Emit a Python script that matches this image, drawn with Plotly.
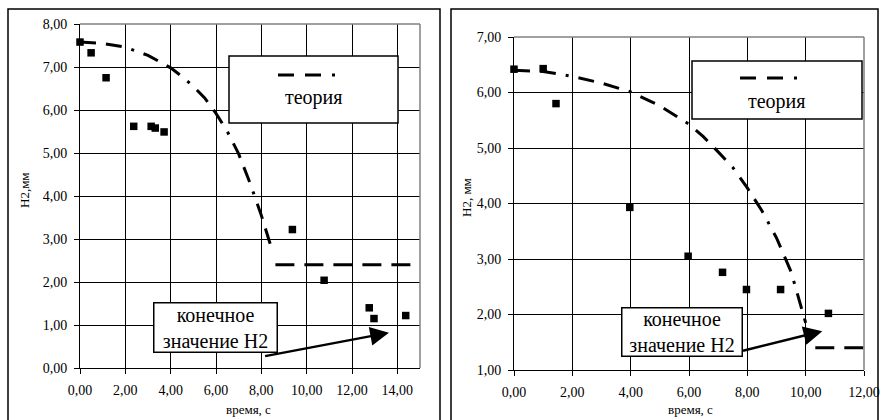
import plotly.graph_objects as go

W, H = 883, 420

# ---------------- data: left chart ----------------
exp_left_x = [0.0, 0.49, 1.15, 2.37, 3.14, 3.32, 3.71, 9.37, 10.77, 12.76, 12.97, 14.37]
exp_left_y = [7.58, 7.33, 6.75, 5.62, 5.62, 5.58, 5.49, 3.22, 2.04, 1.40, 1.15, 1.22]
theory_left_x = [0, 1.0, 2.0, 3.0, 4.0, 4.5, 5.0, 5.5, 6.0, 6.5, 7.0, 7.5, 8.0, 8.5]
theory_left_y = [7.58, 7.55, 7.46, 7.27, 6.98, 6.78, 6.55, 6.28, 5.92, 5.50, 4.98, 4.30, 3.55, 2.70]
final_left_x = [8.62, 14.62]
final_left_y = [2.40, 2.40]
left_xticks = [0, 2, 4, 6, 8, 10, 12, 14]
left_xticklabels = ["0,00", "2,00", "4,00", "6,00", "8,00", "10,00", "12,00", "14,00"]
left_yticks = [0, 1, 2, 3, 4, 5, 6, 7, 8]
left_yticklabels = ["0,00", "1,00", "2,00", "3,00", "4,00", "5,00", "6,00", "7,00", "8,00"]
arrow_left = [8.1, 0.27, 13.63, 0.82]  # tail x, tail y, head x, head y

# ---------------- data: right chart ----------------
exp_right_x = [0.0, 1.0, 1.44, 3.97, 5.97, 7.15, 7.97, 9.14, 10.78]
exp_right_y = [6.42, 6.43, 5.80, 3.93, 3.05, 2.76, 2.45, 2.45, 2.02]
theory_right_x = [0, 1.0, 2.0, 3.0, 4.0, 5.0, 6.0, 6.5, 7.0, 7.5, 8.0, 8.5, 9.0, 9.5, 10.0]
theory_right_y = [6.40, 6.38, 6.29, 6.17, 6.01, 5.76, 5.43, 5.20, 4.93, 4.65, 4.28, 3.87, 3.38, 2.77, 1.85]
final_right_x = [10.33, 12.0]
final_right_y = [1.40, 1.40]
right_xticks = [0, 2, 4, 6, 8, 10, 12]
right_xticklabels = ["0,00", "2,00", "4,00", "6,00", "8,00", "10,00", "12,00"]
right_yticks = [1, 2, 3, 4, 5, 6, 7]
right_yticklabels = ["1,00", "2,00", "3,00", "4,00", "5,00", "6,00", "7,00"]
arrow_right = [7.8, 1.34, 10.57, 1.70]

legend_text = "теория"
note_text = "конечное<br>значение H2"
xtitle = "время, с"
ytitle_left = "H2,мм"
ytitle_right = "H2, мм"

FONT = "Liberation Serif, Times New Roman, DejaVu Serif, serif"
DASH_CURVE = "16px,10px,16px,10px,3px,10px"
DASH_FINAL = "19px,10px"


def fx(p):
    return p / W


def fy(p):
    return 1 - p / H


fig = go.Figure()

for xa, ya, ex, ey, tx, ty, fxv, fyv in [
    ("x", "y", exp_left_x, exp_left_y, theory_left_x, theory_left_y, final_left_x, final_left_y),
    ("x2", "y2", exp_right_x, exp_right_y, theory_right_x, theory_right_y, final_right_x, final_right_y),
]:
    fig.add_trace(go.Scatter(x=tx, y=ty, mode="lines", xaxis=xa, yaxis=ya,
                             line=dict(color="black", width=3, dash=DASH_CURVE),
                             showlegend=False, hoverinfo="skip"))
    fig.add_trace(go.Scatter(x=fxv, y=fyv, mode="lines", xaxis=xa, yaxis=ya,
                             line=dict(color="black", width=3, dash=DASH_FINAL),
                             showlegend=False, hoverinfo="skip"))
    fig.add_trace(go.Scatter(x=ex, y=ey, mode="markers", xaxis=xa, yaxis=ya,
                             marker=dict(symbol="square", size=7.5, color="black"),
                             cliponaxis=False, showlegend=False))

axis_common = dict(showgrid=True, gridcolor="black", gridwidth=1, zeroline=False,
                   automargin=False, layer="below traces",
                   showline=True, linecolor="black", linewidth=1,
                   ticks="outside", ticklen=5, tickcolor="black", tickwidth=1,
                   ticklabelstandoff=4,
                   tickfont=dict(family=FONT, size=14, color="black"))

fig.update_layout(
    template="none",
    width=W, height=H,
    margin=dict(l=0, r=0, t=0, b=0, autoexpand=False),
    paper_bgcolor="white", plot_bgcolor="white",
    showlegend=False,
    font=dict(family=FONT, color="black"),
    xaxis=dict(domain=[fx(80), fx(420)], range=[0, 15], anchor="y",
               tickvals=left_xticks, ticktext=left_xticklabels, **axis_common),
    yaxis=dict(domain=[fy(368), fy(24)], range=[0, 8], anchor="x",
               tickvals=left_yticks, ticktext=left_yticklabels, **axis_common),
    xaxis2=dict(domain=[fx(514), fx(864)], range=[0, 12], anchor="y2",
                tickvals=right_xticks, ticktext=right_xticklabels, **axis_common),
    yaxis2=dict(domain=[fy(370), fy(37)], range=[1, 7], anchor="x2",
                tickvals=right_yticks, ticktext=right_yticklabels, **axis_common),
)

shapes = []
# outer frames
shapes.append(dict(type="rect", xref="paper", yref="paper", x0=fx(8), x1=fx(440), y0=fy(421), y1=fy(9),
                   line=dict(color="black", width=1.5), fillcolor="rgba(0,0,0,0)", layer="above"))
shapes.append(dict(type="rect", xref="paper", yref="paper", x0=fx(451), x1=fx(878), y0=fy(421), y1=fy(9),
                   line=dict(color="black", width=1.5), fillcolor="rgba(0,0,0,0)", layer="above"))
# gray plot area top/right borders
for (l, r, t, b) in [(80, 420, 24, 368), (514, 864, 37, 370)]:
    shapes.append(dict(type="line", xref="paper", yref="paper", x0=fx(l), x1=fx(r), y0=fy(t), y1=fy(t),
                       line=dict(color="#808080", width=1.5), layer="above"))
    shapes.append(dict(type="line", xref="paper", yref="paper", x0=fx(r), x1=fx(r), y0=fy(t), y1=fy(b),
                       line=dict(color="#808080", width=1.5), layer="above"))
# legend boxes and samples
for (l, t, r, b, sy, sx0, sx1) in [(229, 56, 398, 123, 75, 278, 337), (692, 61, 862, 119, 78, 740, 799)]:
    shapes.append(dict(type="rect", xref="paper", yref="paper", x0=fx(l), x1=fx(r), y0=fy(b), y1=fy(t),
                       line=dict(color="black", width=1.5), fillcolor="white", layer="above"))
    shapes.append(dict(type="line", xref="paper", yref="paper", x0=fx(sx0), x1=fx(sx1), y0=fy(sy), y1=fy(sy),
                       line=dict(color="black", width=3, dash="16px,11px,16px,11px,3px,11px"), layer="above"))
fig.update_layout(shapes=shapes)

ann = []
# arrows
for (xr, yr, a) in [("x", "y", arrow_left), ("x2", "y2", arrow_right)]:
    ann.append(dict(xref=xr, yref=yr, axref=xr, ayref=yr, x=a[2], y=a[3], ax=a[0], ay=a[1],
                    text="", showarrow=True, arrowhead=2, arrowsize=1.5, arrowwidth=2.5,
                    arrowcolor="black"))
# note boxes
for (cx, cy, w, h) in [(215, 327, 120, 46), (681.5, 331.5, 117, 45)]:
    ann.append(dict(xref="paper", yref="paper", x=fx(cx), y=fy(cy), xanchor="center", yanchor="middle",
                    text=note_text, showarrow=False, width=w, height=h, align="center", valign="middle",
                    bgcolor="white", bordercolor="black", borderwidth=1.5, borderpad=1,
                    font=dict(family=FONT, size=20, color="black")))
# legend text
for (cx, cy) in [(314, 97), (777, 101)]:
    ann.append(dict(xref="paper", yref="paper", x=fx(cx), y=fy(cy), xanchor="center", yanchor="middle",
                    text=legend_text, showarrow=False, font=dict(family=FONT, size=20, color="black")))
# axis titles
for (cx, cy) in [(248, 409), (690, 409)]:
    ann.append(dict(xref="paper", yref="paper", x=fx(cx), y=fy(cy), xanchor="center", yanchor="middle",
                    text=xtitle, showarrow=False, font=dict(family=FONT, size=13, color="black")))
for (cx, cy, t) in [(25, 190, ytitle_left), (466, 198, ytitle_right)]:
    ann.append(dict(xref="paper", yref="paper", x=fx(cx), y=fy(cy), xanchor="center", yanchor="middle",
                    text=t, showarrow=False, textangle=-90, font=dict(family=FONT, size=13, color="black")))
fig.update_layout(annotations=ann)

fig.write_html("out.html", config={"displayModeBar": False},
               post_script="document.body.style.margin='0';document.body.style.overflow='hidden';")
